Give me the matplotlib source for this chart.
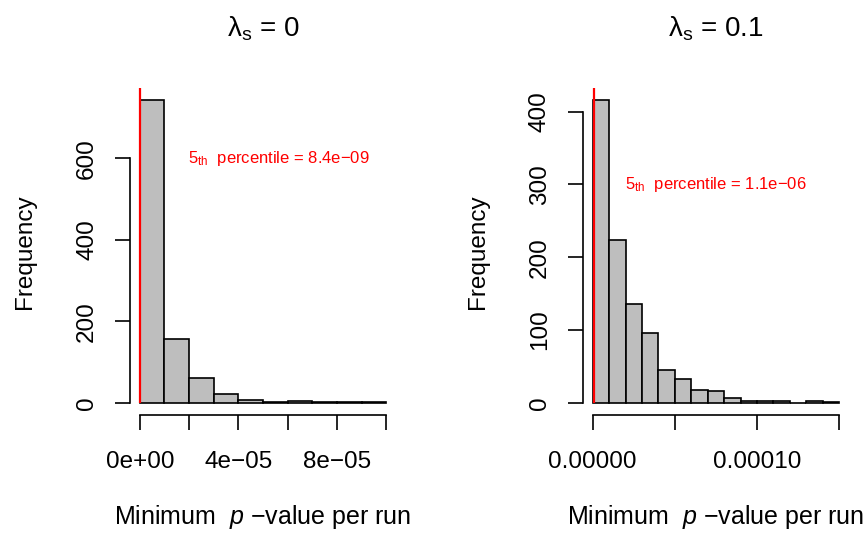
import numpy as np
import matplotlib
matplotlib.use("Agg")
import matplotlib.pyplot as plt
from matplotlib.ticker import FixedLocator, FixedFormatter

plt.rcParams["font.family"] = ["Liberation Sans", "DejaVu Sans"]
plt.rcParams["mathtext.fontset"] = "custom"
plt.rcParams["mathtext.rm"] = "Liberation Sans"
plt.rcParams["mathtext.it"] = "Liberation Sans:italic"
plt.rcParams["mathtext.bf"] = "Liberation Sans:bold"

# Histogram counts of the minimum p-value per run (bins of width 1e-5)
bin_width = 1e-5
counts_l0 = [743, 157, 60, 22, 7, 2, 4, 2, 1, 2]
counts_l01 = [416, 223, 136, 96, 45, 32, 18, 16, 6, 2, 3, 3, 0, 3, 1]

# 5th percentiles of the minimum p-value
pct5_l0 = 8.4e-09
pct5_l01 = 1.1e-06
pct5_labels = ["8.4e\u221209", "1.1e\u221206"]

titles = [r"$\mathrm{\lambda_s}$ = 0", r"$\mathrm{\lambda_s}$ = 0.1"]

xticks_l0 = [0, 2e-5, 4e-5, 6e-5, 8e-5, 1e-4]
xticklabels_l0 = ["0e+00", "", "4e\u221205", "", "8e\u221205", ""]
yticks_l0 = [0, 200, 400, 600]

xticks_l01 = [0, 5e-5, 1e-4, 1.5e-4]
xticklabels_l01 = ["0.00000", "", "0.00010", ""]
yticks_l01 = [0, 100, 200, 300, 400]

# Where the percentile annotation sits (data coordinates)
note_pos = [(5.65e-5, 600), (7.5e-5, 300)]

FS = 17.5
W, H = 868, 533
fig = plt.figure(figsize=(W / 100, H / 100), dpi=100)

def px_axes(x0, x1, y0, y1):
    return fig.add_axes([x0 / W, 1 - y1 / H, (x1 - x0) / W, (y1 - y0) / H])

ax_l = px_axes(130.0, 396.0, 88.0, 414.8)
ax_r = px_axes(582.8, 849.0, 88.0, 414.8)

panels = [
    (ax_l, counts_l0, pct5_l0, pct5_labels[0], titles[0], xticks_l0, xticklabels_l0, yticks_l0, note_pos[0]),
    (ax_r, counts_l01, pct5_l01, pct5_labels[1], titles[1], xticks_l01, xticklabels_l01, yticks_l01, note_pos[1]),
]

for ax, counts, pct, pct_lab, title, xt, xtl, yt, npos in panels:
    counts = np.asarray(counts)
    edges = np.arange(len(counts) + 1) * bin_width
    ax.bar(edges[:-1], counts, width=bin_width, align="edge",
           color="#BEBEBE", edgecolor="black", linewidth=1.2)
    xr = edges[-1] - edges[0]
    ax.set_xlim(edges[0] - 0.04 * xr, edges[-1] + 0.04 * xr)
    ymax = counts.max()
    ylo, yhi = -0.04 * ymax, 1.04 * ymax
    ax.set_ylim(ylo, yhi)

    # percentile marker from zero up to the top of the plotting region
    ax.vlines(pct, 0, yhi, color="red", linewidth=1.6, zorder=5)
    ax.text(npos[0], npos[1], r"$\mathrm{5_{th}}$  percentile = " + pct_lab,
            color="red", fontsize=12, ha="center", va="center")

    for s in ("top", "right"):
        ax.spines[s].set_visible(False)
    ax.spines["left"].set_bounds(yt[0], yt[-1])
    ax.spines["bottom"].set_bounds(xt[0], xt[-1])
    for s in ("left", "bottom"):
        ax.spines[s].set_linewidth(1.2)

    ax.xaxis.set_major_locator(FixedLocator(xt))
    ax.xaxis.set_major_formatter(FixedFormatter(xtl))
    ax.yaxis.set_major_locator(FixedLocator(yt))
    ax.set_yticklabels([str(v) for v in yt], rotation=90, va="center")
    ax.tick_params(axis="both", direction="out", length=11, width=1.2,
                   labelsize=FS)
    ax.tick_params(axis="x", pad=15)
    ax.tick_params(axis="y", pad=12)

    ax.set_xlabel("Minimum  $\\mathit{p}$ \u2212value per run", fontsize=18)
    ax.xaxis.set_label_coords(0.5, -0.313)
    ax.xaxis.label.set_va("center")
    ax.set_ylabel("Frequency", fontsize=FS)
    ax.yaxis.set_label_coords(-0.395, 0.5)
    ax.yaxis.label.set_va("center")

    ax.text(0.5, 1.159, title, transform=ax.transAxes, ha="center",
            va="baseline", fontsize=20)

fig.savefig("out.png", dpi=100)
